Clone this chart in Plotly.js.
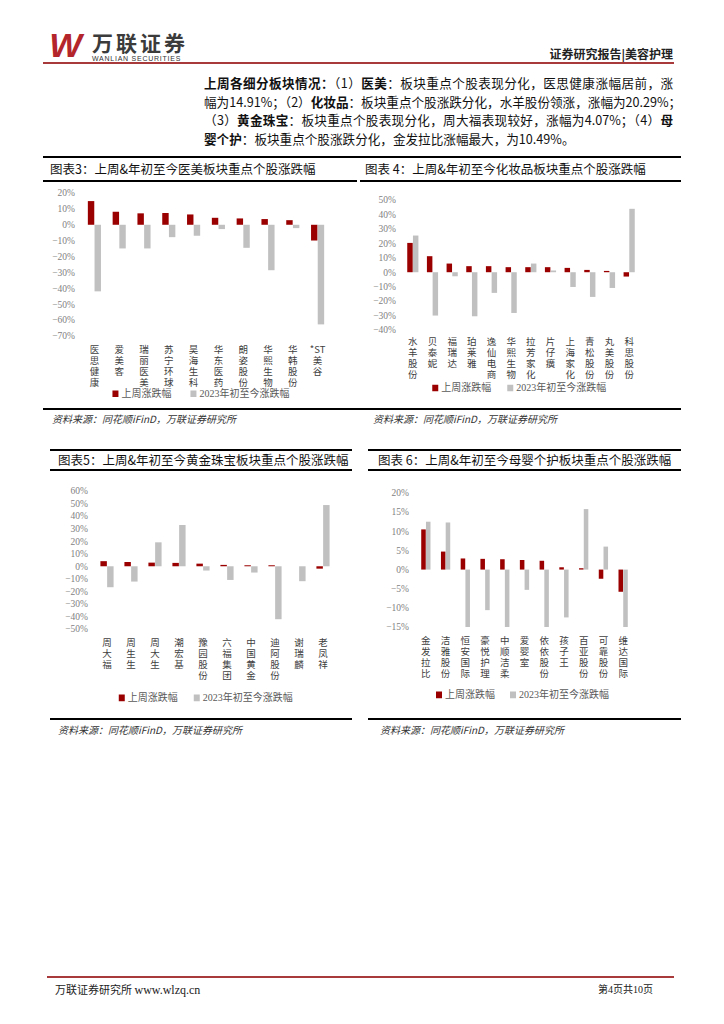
<!DOCTYPE html>
<html><head><meta charset="utf-8">
<script src="https://cdn.plot.ly/plotly-3.0.1.min.js"></script>
<style>
body{margin:0;background:#fff;}
#page{position:relative;width:724px;height:1024px;overflow:hidden;background:#fff;font-family:"Noto Sans CJK SC",sans-serif;color:#000;}
.abs{position:absolute;white-space:nowrap;line-height:1;}
.ln{position:absolute;}
.chart{position:absolute;}
.para{position:absolute;left:204px;width:469px;font-size:12.6px;line-height:1;text-align:justify;text-align-last:justify;white-space:nowrap;color:#111;}
.para b{font-weight:700;}
.src{position:absolute;font-size:10px;font-style:italic;color:#333;white-space:nowrap;line-height:1;}
.ttl{position:absolute;font-size:12.5px;white-space:nowrap;line-height:1;color:#111;}
.legendpoints path{transform:translate(34px,1px) scale(0.5,0.55);}
</style>
</head><body><div id="page">
<!-- header -->
<div class="abs" style="left:50px;top:29px;font-family:'Liberation Sans';font-weight:700;font-style:italic;font-size:33px;color:#b3252b;transform:scaleX(1.05);">W</div>
<div class="abs" style="left:92px;top:32px;font-size:21px;font-weight:700;color:#3b3b3b;letter-spacing:3px;">万联证券</div>
<div class="abs" style="left:92px;top:55px;font-family:'Liberation Sans';font-size:7px;color:#333;letter-spacing:0.75px;">WANLIAN SECURITIES</div>
<div class="abs" style="right:51px;top:48px;font-size:12px;font-weight:700;color:#222;">证券研究报告|美容护理</div>
<div class="ln" style="left:43px;top:62px;width:631px;height:1.5px;background:#a83a3c;"></div>

<div class="para" style="top:77px;"><b>上周各细分板块情况：</b>（1）<b>医美</b>：板块重点个股表现分化，医思健康涨幅居前，涨</div>
<div class="para" style="top:95.5px;">幅为14.91%；（2）<b>化妆品</b>：板块重点个股涨跌分化，水羊股份领涨，涨幅为20.29%；</div>
<div class="para" style="top:114px;">（3）<b>黄金珠宝</b>：板块重点个股表现分化，周大福表现较好，涨幅为4.07%；（4）<b>母</b></div>
<div class="para" style="top:132.5px;text-align-last:left;width:auto;"><b>婴个护</b>：板块重点个股涨跌分化，金发拉比涨幅最大，为10.49%。</div>

<!-- chart 3/4 frame -->
<div class="ln" style="left:43px;top:156px;width:638px;height:2px;background:#000;"></div>
<div class="ttl" style="left:50px;top:163px;">图表3：上周&amp;年初至今医美板块重点个股涨跌幅</div>
<div class="ttl" style="left:365px;top:163px;">图表 4：上周&amp;年初至今化妆品板块重点个股涨跌幅</div>
<div class="ln" style="left:43px;top:180px;width:314px;height:2px;background:#000;"></div>
<div class="ln" style="left:360px;top:180px;width:321px;height:2px;background:#000;"></div>
<div class="ln" style="left:43px;top:408px;width:638px;height:2px;background:#000;"></div>
<div class="src" style="left:52px;top:414px;">资料来源：同花顺iFinD，万联证券研究所</div>
<div class="src" style="left:373px;top:414px;">资料来源：同花顺iFinD，万联证券研究所</div>

<!-- chart 5/6 frame -->
<div class="ln" style="left:50px;top:449px;width:302px;height:2px;background:#000;"></div>
<div class="ln" style="left:368px;top:449px;width:313px;height:2px;background:#000;"></div>
<div class="ttl" style="left:58px;top:454px;">图表5：上周&amp;年初至今黄金珠宝板块重点个股涨跌幅</div>
<div class="ttl" style="left:378px;top:454px;">图表 6：上周&amp;年初至今母婴个护板块重点个股涨跌幅</div>
<div class="ln" style="left:50px;top:469px;width:302px;height:2px;background:#000;"></div>
<div class="ln" style="left:368px;top:469px;width:313px;height:2px;background:#000;"></div>
<div class="ln" style="left:50px;top:718px;width:302px;height:2px;background:#000;"></div>
<div class="ln" style="left:368px;top:718px;width:313px;height:2px;background:#000;"></div>
<div class="src" style="left:58px;top:725px;">资料来源：同花顺iFinD，万联证券研究所</div>
<div class="src" style="left:380px;top:725px;">资料来源：同花顺iFinD，万联证券研究所</div>

<!-- footer -->
<div class="ln" style="left:47px;top:976px;width:627px;height:2px;background:#a83a3c;"></div>
<div class="abs" style="left:55px;top:984px;font-size:11px;color:#222;">万联证券研究所 <span style="font-family:'Liberation Serif';font-size:12px;">www.wlzq.cn</span></div>
<div class="abs" style="left:598px;top:984px;font-size:10px;color:#222;">第<span style="font-family:'Liberation Serif'">4</span>页共<span style="font-family:'Liberation Serif'">10</span>页</div>

<div id="c3" class="chart"></div>
<div id="c4" class="chart"></div>
<div id="c5" class="chart"></div>
<div id="c6" class="chart"></div>
</div>
<script>
// ---- data ----
const seriesWeek = "上周涨跌幅";
const seriesYtd = "2023年初至今涨跌幅";

const c3Cats = ["医思健康","爱美客","瑞丽医美","苏宁环球","昊海生科","华东医药","朗姿股份","华熙生物","华韩股份","*ST美谷"];
const c3Week = [14.91, 8.2, 7.2, 7.4, 6.5, 4.4, 4.0, 3.6, 2.9, -9.9];
const c3Ytd  = [-41.9, -14.9, -14.9, -7.8, -6.9, -2.7, -14.5, -28.6, -2.1, -62.7];

const c4Cats = ["水羊股份","贝泰妮","福瑞达","珀莱雅","逸仙电商","华熙生物","拉芳家化","片仔癀","上海家化","青松股份","丸美股份","科思股份"];
const c4Week = [20.29, 11.1, 6.0, 4.2, 4.2, 3.5, 3.5, 3.5, 3.0, 1.6, 0.9, -3.0];
const c4Ytd  = [25.4, -30.0, -2.8, -30.5, -14.3, -28.2, 6.0, 1.2, -10.2, -17.1, -10.9, 43.9];

const c5Cats = ["周大福","周生生","周大生","潮宏基","豫园股份","六福集团","中国黄金","迪阿股份","谢瑞麟","老凤祥"];
const c5Week = [4.07, 3.4, 2.9, 2.7, 2.1, 1.1, 0.8, 0.8, 0.0, -1.9];
const c5Ytd  = [-16.7, -12.2, 19.1, 32.9, -3.4, -10.9, -5.0, -42.2, -11.9, 48.8];

const c6Cats = ["金发拉比","洁雅股份","恒安国际","豪悦护理","中顺洁柔","爱婴室","依依股份","孩子王","百亚股份","可靠股份","维达国际"];
const c6Week = [10.49, 4.7, 2.9, 2.8, 2.7, 2.5, 2.3, 0.6, 0.35, -2.4, -5.8];
const c6Ytd  = [12.5, 12.3, -15, -10.6, -15, -5.3, -15, -12.5, 15.8, 6.0, -15];

const c3Range = [-70, 20], c4Range = [-40, 50], c5Range = [-50, 60], c6Range = [-15, 20];

// ---- drawing ----
const RED = "#9a0000", GRAY = "#c0c0c0";
function vert(c){ return c === "*ST美谷" ? "*ST<br>美<br>谷" : c.split("").join("<br>"); }

function draw(id, box, plot, cats, week, ytd, yr, dtick, gap, leg, standoff){
  const el = document.getElementById(id);
  el.style.left = box.x + "px"; el.style.top = box.y + "px";
  el.style.width = box.w + "px"; el.style.height = box.h + "px";
  const margin = {l: plot.x0 - box.x, r: box.x + box.w - plot.x1, t: plot.y0 - box.y,
                  b: box.y + box.h - plot.y1, pad: 0, autoexpand: false};
  const ph = plot.y1 - plot.y0, pw = plot.x1 - plot.x0;
  const data = [
    {type:"bar", name: seriesWeek, x: cats, y: week, marker:{color: RED}, legendwidth: leg.ew},
    {type:"bar", name: seriesYtd, x: cats, y: ytd, marker:{color: GRAY}, legendwidth: 100}
  ];
  const layout = {
    width: box.w, height: box.h, margin: margin,
    paper_bgcolor: "rgba(0,0,0,0)", plot_bgcolor: "rgba(0,0,0,0)",
    barmode: "group", bargap: gap, bargroupgap: 0.04,
    showlegend: true,
    legend: {orientation: "h", x: (leg.tx - 40 - plot.x0) / pw - 0.001, xanchor: "left",
             y: -(leg.cy - plot.y1) / ph, yanchor: "middle",
             font: {family: "Liberation Serif, Noto Sans CJK SC", size: 10, color: "#595959"},
             bgcolor: "rgba(0,0,0,0)", itemwidth: 30, traceorder: "normal"},
    xaxis: {type: "category", tickmode: "array", tickvals: cats, ticktext: cats.map(vert),
            tickangle: 0, showgrid: false, zeroline: false, showline: false, ticks: "",
            ticklabelstandoff: standoff, automargin: false,
            tickfont: {family: "Noto Sans CJK SC", size: 9.5, color: "#404040"}},
    yaxis: {range: yr, dtick: dtick, tick0: 0, ticksuffix: "%", showgrid: false,
            zeroline: false, showline: false, ticks: "", ticklabelstandoff: 6, automargin: false,
            tickfont: {family: "Liberation Serif", size: 9.5, color: "#7f7f7f"}},
    hovermode: false
  };
  return Plotly.newPlot(el, data, layout, {staticPlot: true, displayModeBar: false}).then(() => {
    el.querySelectorAll(".xtick text tspan.line").forEach(t => {
      const dy = t.getAttribute("dy");
      if (dy && dy.endsWith("em")) t.setAttribute("dy", (parseFloat(dy) * 0.9).toFixed(3) + "em");
    });
  });
}

draw("c3", {x:43, y:183, w:314, h:225}, {x0:82.3, x1:329.7, y0:193.3, y1:336},
     c3Cats, c3Week, c3Ytd, c3Range, 10, 0.46, {tx:122, cy:392.7, ew:33}, 6);
draw("c4", {x:360, y:183, w:321, h:225}, {x0:403.2, x1:638.8, y0:200, y1:330},
     c4Cats, c4Week, c4Ytd, c4Range, 10, 0.42, {tx:441.7, cy:387, ew:30}, 4);
draw("c5", {x:50, y:472, w:302, h:246}, {x0:94.7, x1:335, y0:491, y1:629.3},
     c5Cats, c5Week, c5Ytd, c5Range, 10, 0.44, {tx:127.7, cy:697.3, ew:30}, 6);
draw("c6", {x:368, y:472, w:313, h:246}, {x0:415.8, x1:633.2, y0:493.3, y1:626.7},
     c6Cats, c6Week, c6Ytd, c6Range, 5, 0.52, {tx:445, cy:693.3, ew:29}, 6);
</script>
</body></html>
